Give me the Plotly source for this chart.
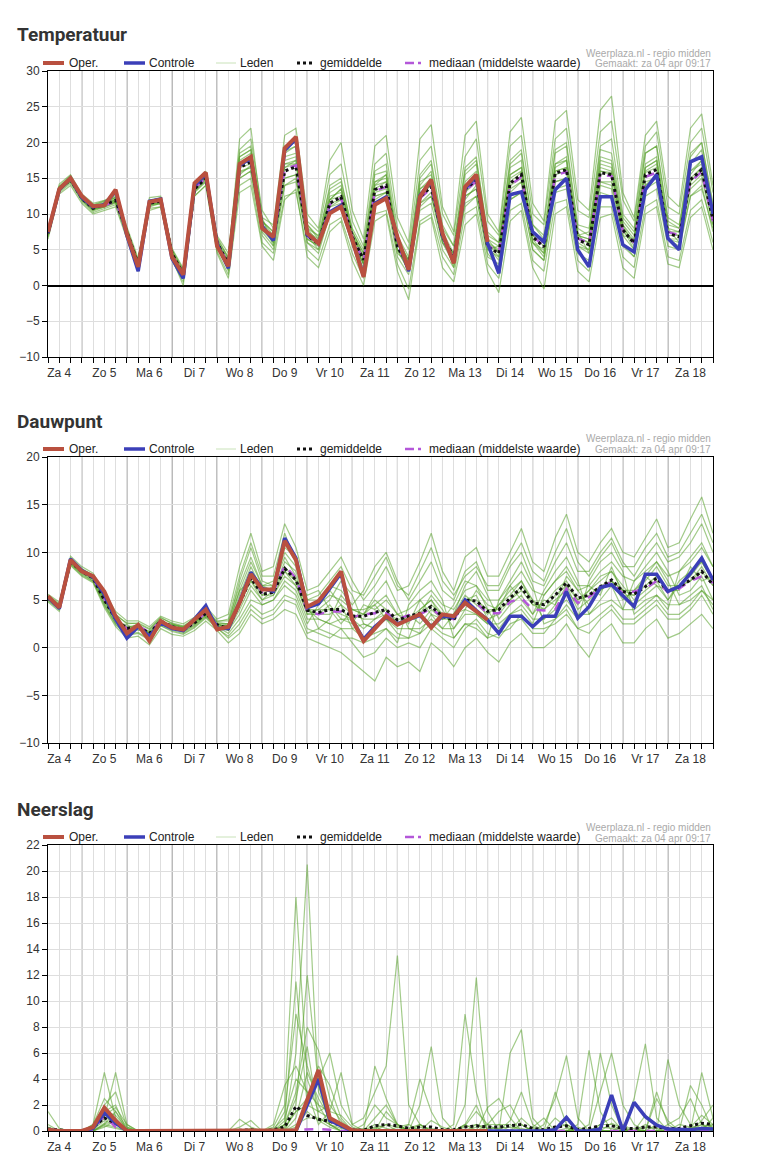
import plotly.graph_objects as go

W, H = 758, 1171

# ---------------- time axis ----------------
days = ["Za 4", "Zo 5", "Ma 6", "Di 7", "Wo 8", "Do 9", "Vr 10", "Za 11",
        "Zo 12", "Ma 13", "Di 14", "Wo 15", "Do 16", "Vr 17", "Za 18"]
hours = list(range(6, 361, 6))          # 6-hourly steps, hours after Za 4 00:00

# ---------------- Temperatuur ----------------
temp_oper = [7.5, 13.5, 15.0, 12.5, 11.1, 11.2, 13.4, 7.2, 2.6, 11.7, 12.0, 4.0,
             1.5, 14.3, 15.8, 5.5, 2.7, 17.0, 18.0, 8.0, 6.8, 19.2, 20.8, 7.3,
             5.9, 10.1, 11.0, 6.4, 1.2, 11.3, 12.2, 6.8, 2.2, 12.4, 14.8, 7.3,
             3.1, 13.8, 15.5, 6.1] + [None] * 20
temp_ctrl = [7.4, 13.4, 15.0, 12.3, 11.0, 11.3, 13.2, 7.0, 2.0, 11.8, 12.1, 3.8,
             1.0, 14.0, 15.6, 5.8, 2.4, 16.8, 17.8, 8.3, 6.3, 18.9, 20.5, 7.1,
             6.0, 10.3, 11.2, 6.2, 1.4, 11.5, 12.4, 6.6, 2.0, 12.6, 14.6, 7.0,
             3.3, 13.5, 15.3, 5.9, 1.7, 12.7, 13.1, 7.5, 6.1, 13.4, 15.0, 5.0,
             2.6, 12.4, 12.4, 5.7, 4.7, 13.4, 15.5, 6.6, 5.0, 17.3, 18.0, 10.0]
temp_mean = [7.3, 13.5, 14.8, 12.2, 10.8, 11.3, 11.9, 7.5, 3.0, 11.5, 11.8, 4.5,
             1.6, 13.5, 15.0, 6.0, 3.0, 16.5, 17.3, 8.2, 6.5, 16.0, 16.6, 7.0,
             5.8, 11.5, 12.4, 6.8, 3.6, 13.4, 14.0, 5.4, 2.8, 12.4, 13.8, 6.8,
             4.0, 13.4, 14.8, 5.4, 4.5, 14.3, 15.5, 6.8, 5.4, 15.7, 16.2, 6.4,
             5.7, 15.8, 15.5, 7.8, 5.9, 15.5, 16.2, 7.3, 6.8, 14.8, 16.2, 9.2]
temp_median = [7.3, 13.5, 14.9, 12.3, 10.9, 11.2, 11.8, 7.4, 2.9, 11.6, 11.9, 4.3,
               1.5, 13.6, 15.1, 6.1, 2.9, 16.7, 17.5, 8.1, 6.4, 16.3, 16.8, 6.9,
               5.7, 11.3, 12.2, 6.9, 3.4, 13.2, 13.8, 5.5, 2.6, 12.2, 13.6, 6.9,
               3.8, 13.2, 14.6, 5.6, 4.6, 14.0, 15.2, 6.9, 5.5, 15.4, 15.9, 6.6,
               5.9, 15.5, 15.3, 7.6, 6.0, 15.2, 15.8, 7.5, 7.0, 14.5, 15.9, 9.0]
temp_members = [
    [7.8, 14.2, 15.5, 12.8, 11.5, 11.9, 12.6, 8.2, 3.8, 12.3, 12.5, 5.2,
     2.4, 14.3, 16.0, 7.0, 4.5, 19.0, 20.5, 10.5, 8.0, 19.5, 20.0, 9.0,
     7.5, 15.5, 17.0, 9.0, 5.5, 17.0, 18.5, 8.0, 5.0, 17.5, 19.5, 10.0,
     7.0, 18.0, 20.5, 9.0, 7.0, 19.5, 21.0, 10.0, 8.5, 20.5, 22.0, 10.5,
     9.5, 21.5, 23.0, 12.0, 9.0, 19.5, 21.5, 11.0, 10.0, 20.0, 22.0, 13.0],
    [6.5, 12.8, 14.0, 11.5, 10.0, 10.5, 11.0, 6.5, 2.0, 10.8, 11.0, 3.5,
     0.5, 12.5, 14.0, 4.8, 1.5, 14.0, 15.0, 6.0, 4.5, 12.5, 13.0, 5.0,
     3.5, 8.5, 9.5, 4.5, 1.0, 10.0, 10.5, 3.0, -0.5, 9.0, 10.0, 4.0,
     1.5, 10.0, 11.0, 3.0, 1.0, 10.5, 11.5, 3.5, 2.0, 11.5, 12.0, 3.5,
     2.0, 11.0, 11.0, 4.0, 2.5, 11.0, 12.0, 4.0, 3.5, 10.5, 12.0, 6.0],
    [7.0, 13.8, 15.2, 12.5, 11.2, 11.8, 12.3, 7.0, 2.5, 11.0, 11.5, 4.0,
     1.0, 13.0, 14.5, 5.5, 3.5, 18.0, 19.0, 9.0, 7.5, 18.5, 19.5, 8.5,
     6.5, 14.0, 15.0, 7.5, 4.5, 15.5, 16.0, 6.5, 3.5, 13.0, 14.0, 6.0,
     3.0, 11.5, 12.5, 4.5, 2.5, 12.0, 13.0, 5.0, 3.5, 13.5, 14.0, 5.5,
     4.5, 14.0, 13.5, 6.0, 4.0, 13.5, 14.5, 6.5, 5.5, 12.5, 13.5, 8.0],
    [7.6, 13.2, 14.5, 11.9, 10.4, 10.9, 11.5, 7.8, 3.4, 11.9, 12.2, 5.0,
     2.0, 13.8, 15.2, 6.5, 2.5, 15.0, 16.0, 7.5, 5.5, 14.0, 14.5, 6.0,
     5.0, 10.0, 11.0, 6.0, 3.0, 12.0, 13.0, 5.0, 3.5, 15.0, 17.0, 8.0,
     5.5, 16.5, 18.0, 7.0, 6.0, 17.0, 18.5, 8.5, 6.5, 18.5, 19.5, 8.0,
     7.0, 19.0, 18.5, 9.5, 7.5, 18.5, 19.5, 9.0, 8.0, 18.0, 20.0, 11.0],
    [7.2, 13.6, 15.0, 12.0, 10.9, 11.5, 12.0, 7.6, 3.2, 11.6, 11.9, 4.6,
     1.4, 13.4, 15.4, 6.2, 3.8, 20.5, 22.0, 9.5, 8.5, 21.0, 22.0, 10.0,
     8.0, 17.5, 20.0, 10.5, 6.5, 19.5, 21.0, 9.5, 6.0, 20.5, 22.5, 11.0,
     7.5, 21.0, 23.0, 10.0, 7.5, 21.5, 23.5, 11.5, 9.0, 23.0, 24.5, 12.0,
     10.5, 24.5, 26.5, 13.0, 9.5, 21.0, 23.0, 12.5, 11.0, 22.0, 24.0, 14.0],
    [6.8, 13.0, 14.3, 11.8, 10.2, 10.8, 11.3, 6.8, 2.2, 10.5, 11.0, 3.8,
     0.0, 12.5, 14.0, 4.5, 1.0, 13.0, 14.0, 5.5, 3.5, 12.0, 13.5, 4.0,
     2.5, 7.5, 9.0, 3.5, 0.0, 9.0, 10.0, 2.0, -2.0, 8.5, 9.5, 2.5,
     0.5, 8.5, 10.0, 2.0, -1.0, 9.0, 10.5, 2.5, -0.5, 10.0, 11.0, 2.0,
     0.5, 9.5, 10.0, 2.5, 1.0, 10.0, 11.0, 3.0, 2.5, 9.5, 11.0, 5.0],
    [7.4, 13.4, 14.6, 12.4, 11.0, 11.2, 11.7, 7.3, 3.1, 11.4, 11.6, 4.3,
     1.8, 13.7, 15.2, 6.3, 2.8, 17.0, 18.0, 8.5, 6.0, 17.5, 18.0, 7.5,
     6.5, 12.5, 13.0, 7.0, 4.0, 14.5, 15.0, 6.0, 2.5, 11.5, 12.5, 6.5,
     4.5, 14.5, 16.0, 6.0, 4.0, 13.0, 14.5, 6.0, 5.0, 16.5, 17.5, 7.0,
     6.5, 17.5, 17.0, 8.5, 5.5, 14.5, 15.0, 7.0, 7.0, 15.5, 17.5, 9.5],
    [7.1, 13.7, 14.9, 12.1, 10.6, 11.0, 12.1, 7.7, 2.8, 11.7, 12.0, 4.8,
     1.2, 13.2, 14.8, 5.8, 3.3, 15.8, 16.5, 7.8, 7.0, 15.0, 15.5, 6.5,
     5.5, 11.0, 12.0, 6.5, 3.0, 13.0, 13.5, 5.0, 2.0, 13.5, 15.0, 7.5,
     3.5, 12.5, 13.5, 5.0, 5.5, 15.5, 16.5, 7.5, 6.0, 14.5, 15.0, 6.0,
     5.0, 16.5, 16.0, 7.0, 6.5, 16.5, 17.5, 8.0, 6.0, 14.0, 15.5, 8.5],
    [7.5, 13.3, 14.7, 12.3, 10.7, 11.4, 11.8, 7.4, 3.3, 11.3, 11.7, 4.4,
     1.6, 13.6, 15.1, 6.1, 3.2, 16.5, 17.0, 8.0, 6.5, 16.5, 17.5, 7.0,
     5.0, 12.0, 13.5, 7.5, 4.5, 12.5, 13.0, 4.5, 3.0, 11.5, 13.0, 6.0,
     4.5, 15.5, 17.0, 6.5, 4.5, 14.0, 15.0, 6.5, 4.5, 16.0, 16.5, 6.5,
     6.0, 14.5, 14.0, 7.5, 6.0, 16.0, 17.0, 7.5, 7.5, 16.0, 17.0, 9.5],
    [7.2, 13.9, 15.4, 12.0, 10.5, 11.6, 12.2, 7.9, 2.7, 11.2, 11.4, 4.7,
     1.7, 13.9, 15.6, 6.6, 2.0, 15.5, 16.8, 8.0, 7.0, 17.0, 17.5, 8.0,
     6.0, 13.0, 14.0, 7.0, 3.5, 14.5, 15.5, 6.0, 2.5, 14.0, 16.0, 7.0,
     2.5, 12.0, 14.0, 5.5, 3.5, 15.0, 16.0, 7.0, 6.0, 17.0, 18.0, 7.5,
     4.5, 16.0, 15.5, 8.0, 5.0, 14.0, 15.5, 6.5, 6.5, 14.5, 16.5, 10.0],
    [7.3, 13.6, 14.9, 12.2, 10.9, 11.4, 12.0, 7.6, 3.0, 11.6, 11.9, 4.6,
     1.5, 13.6, 15.1, 6.0, 3.5, 17.5, 18.5, 9.0, 7.5, 17.0, 17.0, 7.5,
     6.0, 12.0, 13.5, 7.5, 4.0, 14.0, 14.5, 6.0, 3.5, 13.5, 14.5, 7.5,
     4.5, 14.0, 15.5, 6.0, 5.0, 15.5, 16.5, 7.5, 6.0, 17.0, 17.5, 7.0,
     6.5, 17.0, 16.5, 8.5, 6.5, 16.5, 17.5, 8.0, 7.5, 16.0, 17.5, 10.0],
    [7.2, 13.4, 14.7, 12.1, 10.7, 11.1, 11.7, 7.4, 2.9, 11.4, 11.6, 4.4,
     1.4, 13.3, 14.8, 5.9, 2.5, 16.0, 16.5, 7.8, 6.0, 15.0, 15.5, 6.5,
     5.5, 11.0, 11.5, 6.5, 3.0, 12.5, 13.0, 5.0, 2.0, 11.0, 12.5, 6.0,
     3.5, 12.5, 13.5, 5.0, 4.0, 13.5, 14.5, 6.0, 4.5, 14.5, 15.0, 5.5,
     5.0, 14.5, 14.5, 7.0, 5.0, 14.0, 15.0, 6.5, 6.0, 13.5, 15.0, 8.5],
    [7.4, 13.5, 14.8, 12.3, 10.8, 11.3, 11.9, 7.5, 3.1, 11.5, 11.8, 4.5,
     1.7, 13.5, 15.0, 6.0, 3.0, 17.0, 17.8, 8.5, 6.8, 16.5, 17.0, 7.2,
     6.2, 12.0, 12.5, 7.0, 3.8, 13.5, 14.5, 5.8, 3.0, 12.5, 14.0, 7.0,
     4.2, 13.5, 15.0, 5.8, 4.8, 14.5, 15.8, 7.0, 5.5, 16.0, 16.5, 6.8,
     6.0, 16.0, 15.8, 8.0, 6.2, 15.8, 16.5, 7.5, 7.0, 15.0, 16.5, 9.5],
    [7.6, 13.8, 15.1, 12.4, 11.1, 11.6, 12.3, 7.2, 2.6, 11.9, 12.1, 4.1,
     1.9, 14.0, 15.5, 6.5, 4.0, 18.5, 19.5, 9.5, 5.5, 18.0, 18.5, 8.0,
     7.0, 13.5, 14.5, 8.0, 5.0, 16.0, 17.0, 7.0, 4.0, 15.5, 17.5, 8.5,
     5.5, 16.0, 17.5, 7.5, 6.0, 17.5, 19.0, 8.5, 7.0, 19.0, 20.0, 8.5,
     8.0, 19.5, 20.5, 10.0, 8.0, 18.5, 19.5, 9.5, 8.5, 18.5, 20.0, 11.5],
    [7.0, 13.2, 14.6, 12.0, 10.6, 11.0, 11.6, 7.1, 2.7, 11.2, 11.5, 4.2,
     1.1, 13.1, 14.6, 5.6, 2.2, 15.0, 16.0, 7.0, 5.0, 14.0, 15.0, 6.0,
     4.5, 10.0, 11.0, 5.5, 2.5, 11.5, 12.0, 4.0, 1.5, 10.5, 11.5, 5.0,
     2.5, 11.0, 12.5, 4.0, 3.0, 12.0, 13.0, 5.0, 3.5, 13.0, 13.5, 4.5,
     3.5, 13.0, 12.5, 5.5, 4.0, 12.5, 13.5, 5.5, 5.0, 12.5, 14.0, 7.5],
    [7.3, 13.7, 15.1, 12.6, 11.3, 11.8, 12.4, 7.9, 3.5, 11.8, 12.3, 5.0,
     2.2, 14.1, 15.7, 6.8, 3.8, 18.0, 19.0, 9.0, 7.0, 18.8, 19.5, 8.5,
     6.8, 11.5, 12.0, 6.0, 3.0, 14.0, 15.5, 6.5, 3.5, 14.5, 15.5, 7.0,
     3.0, 13.0, 14.5, 6.5, 5.5, 16.5, 17.5, 6.0, 4.0, 15.5, 16.0, 7.0,
     7.5, 18.0, 17.5, 9.0, 7.0, 17.0, 18.0, 8.5, 8.0, 17.0, 19.0, 10.5],
]

# ---------------- Dauwpunt ----------------
dew_oper = [5.4, 4.2, 9.2, 8.0, 7.5, 5.9, 3.3, 1.5, 2.4, 0.7, 2.8, 2.1,
            1.9, 2.9, 4.0, 1.9, 2.2, 4.7, 7.7, 6.1, 6.1, 11.2, 9.2, 4.3,
            4.9, 6.4, 8.0, 2.9, 0.7, 2.0, 3.3, 2.4, 2.9, 3.5, 2.1, 3.5,
            3.3, 4.7, 3.8, 2.9] + [None] * 20
dew_ctrl = [5.3, 4.1, 9.3, 8.1, 7.4, 5.6, 3.0, 1.0, 2.2, 1.2, 2.6, 2.0,
            1.8, 3.0, 4.4, 2.0, 2.0, 4.8, 7.9, 6.2, 5.9, 11.5, 9.4, 4.2,
            4.6, 6.2, 7.8, 2.9, 0.9, 2.2, 3.2, 2.5, 3.0, 3.4, 2.2, 3.3,
            3.2, 5.0, 3.9, 2.9, 1.5, 3.3, 3.3, 2.2, 3.3, 3.3, 5.9, 3.1,
            4.3, 6.3, 6.6, 5.4, 4.3, 7.7, 7.7, 5.9, 6.4, 7.8, 9.4, 7.1]
dew_mean = [5.2, 4.3, 9.0, 8.0, 7.3, 5.0, 3.0, 2.0, 2.2, 1.5, 2.8, 2.2,
            1.9, 2.6, 3.6, 2.4, 2.0, 4.7, 7.3, 5.6, 5.8, 8.3, 7.1, 3.9,
            3.7, 4.0, 4.0, 3.3, 3.3, 3.7, 4.0, 2.9, 3.3, 3.6, 4.3, 3.3,
            2.9, 5.0, 4.9, 3.8, 4.0, 5.2, 6.3, 4.7, 4.5, 5.5, 6.8, 5.2,
            5.5, 6.4, 7.1, 5.9, 5.6, 6.4, 7.3, 5.9, 6.4, 7.1, 8.0, 6.6]
dew_median = [5.2, 4.3, 9.0, 8.0, 7.3, 5.1, 3.1, 2.0, 2.3, 1.6, 2.8, 2.2,
              1.9, 2.6, 3.7, 2.4, 2.0, 4.8, 7.6, 5.8, 5.9, 8.6, 7.3, 3.8,
              3.5, 3.8, 3.8, 3.2, 3.5, 3.6, 3.6, 3.0, 3.4, 3.5, 4.1, 3.2,
              3.0, 4.6, 4.7, 3.6, 3.6, 4.8, 5.2, 4.0, 3.9, 4.0, 6.2, 4.7,
              5.3, 6.3, 6.9, 5.7, 5.9, 6.2, 7.0, 5.8, 6.2, 7.0, 7.5, 6.8]
dew_members = [
    [5.6, 4.8, 9.6, 8.5, 7.8, 5.8, 3.8, 2.8, 2.8, 2.2, 3.3, 2.8,
     2.5, 3.2, 4.3, 3.0, 3.5, 8.5, 12.0, 8.0, 8.5, 13.0, 10.5, 6.0,
     6.5, 8.0, 9.5, 7.0, 5.0, 6.5, 8.5, 6.0, 6.5, 9.0, 12.0, 8.0,
     6.0, 9.5, 10.5, 7.5, 7.5, 10.0, 12.5, 9.0, 8.0, 11.5, 14.0, 10.0,
     9.0, 11.0, 12.5, 10.0, 9.5, 11.5, 13.5, 10.5, 11.0, 13.5, 15.8, 12.0],
    [4.8, 3.8, 8.6, 7.5, 6.8, 4.2, 2.2, 1.0, 1.2, 0.3, 2.0, 1.4,
     1.2, 1.8, 2.8, 1.8, 0.5, 1.5, 3.5, 2.5, 3.0, 4.0, 3.5, 1.0,
     0.5, 0.0, -0.5, -1.5, -2.5, -3.5, -1.0, -2.0, -1.5, -2.5, 0.5, -0.5,
     -2.0, 0.0, 1.0, -0.5, -1.5, 0.5, 1.5, 0.0, 0.0, 1.0, 2.5, 0.5,
     -1.0, 1.5, 2.5, 0.5, 0.5, 2.0, 3.0, 1.0, 1.5, 2.5, 3.5, 2.0],
    [5.0, 4.5, 9.3, 8.2, 7.5, 5.5, 3.3, 1.5, 2.5, 1.0, 2.5, 2.5,
     2.2, 2.9, 3.9, 2.6, 2.5, 7.0, 10.5, 7.0, 6.5, 11.0, 9.0, 4.5,
     2.0, 3.0, 5.5, 4.0, 3.5, 5.5, 7.0, 4.5, 2.0, 1.5, 3.5, 2.0,
     3.5, 6.5, 8.0, 5.5, 3.0, 4.5, 5.5, 3.5, 6.0, 8.0, 9.5, 7.0,
     3.5, 5.0, 6.5, 4.0, 7.0, 8.5, 10.0, 8.0, 5.5, 6.0, 7.5, 5.0],
    [5.4, 4.1, 8.8, 7.8, 7.0, 4.6, 2.6, 2.4, 1.8, 1.8, 3.0, 2.0,
     1.6, 2.4, 3.3, 2.2, 1.5, 3.0, 5.0, 4.5, 5.0, 6.5, 5.5, 2.5,
     4.5, 6.0, 4.5, 2.0, 1.0, 1.5, 2.0, 0.5, 4.5, 6.0, 7.0, 5.0,
     1.0, 2.5, 2.0, 1.0, 5.0, 7.0, 9.0, 6.5, 2.5, 3.0, 4.5, 3.0,
     7.0, 9.0, 10.0, 8.0, 3.5, 4.5, 5.5, 4.0, 8.0, 9.5, 11.0, 8.5],
    [5.3, 4.4, 9.2, 8.1, 7.4, 5.2, 3.1, 1.8, 2.0, 1.3, 2.6, 2.3,
     2.0, 2.7, 3.7, 2.5, 2.2, 5.5, 8.5, 6.0, 6.0, 9.0, 8.0, 4.0,
     3.0, 2.5, 3.0, 2.5, 4.5, 4.0, 5.0, 3.5, 3.0, 3.5, 5.5, 4.0,
     2.0, 4.0, 3.5, 2.5, 4.5, 6.0, 7.0, 4.5, 4.0, 5.0, 6.0, 4.5,
     6.0, 7.5, 8.0, 6.5, 5.0, 6.0, 7.0, 5.0, 6.5, 7.0, 8.5, 6.5],
    [5.1, 4.2, 8.9, 7.9, 7.2, 4.8, 2.8, 2.1, 2.4, 1.6, 2.9, 2.0,
     1.8, 2.5, 3.5, 2.3, 1.8, 4.0, 6.5, 5.0, 5.5, 7.5, 6.5, 3.5,
     4.0, 5.0, 7.0, 5.5, 2.5, 2.0, 3.0, 1.5, 1.0, 4.0, 5.0, 3.0,
     4.5, 7.0, 6.5, 4.0, 2.0, 3.5, 4.0, 2.5, 5.5, 7.0, 8.0, 6.0,
     4.5, 6.0, 7.0, 5.0, 6.0, 7.5, 9.0, 7.0, 4.5, 5.5, 6.5, 4.0],
    [5.5, 4.6, 9.4, 8.3, 7.6, 5.4, 3.5, 2.5, 2.6, 2.0, 3.1, 2.6,
     2.3, 3.0, 4.0, 2.8, 2.8, 6.5, 9.5, 6.5, 7.0, 10.5, 9.5, 5.0,
     5.0, 6.5, 6.0, 4.5, 6.0, 8.5, 10.0, 7.0, 5.0, 7.0, 9.0, 6.0,
     5.0, 8.0, 9.0, 6.0, 6.0, 8.5, 10.0, 7.0, 6.5, 9.0, 11.0, 8.0,
     8.0, 10.0, 11.5, 9.0, 7.5, 9.5, 11.0, 9.0, 9.5, 11.0, 13.0, 10.0],
    [4.9, 4.0, 8.7, 7.6, 6.9, 4.4, 2.4, 1.3, 1.5, 0.8, 2.3, 1.7,
     1.4, 2.1, 3.1, 2.0, 1.2, 2.5, 4.5, 3.5, 4.0, 5.5, 5.0, 2.0,
     1.5, 1.0, 2.0, 0.5, -1.0, -0.5, 1.0, 0.0, 0.5, 0.0, 2.0, 1.0,
     0.0, 2.0, 3.0, 1.5, 1.0, 2.5, 3.0, 1.5, 1.5, 3.0, 4.0, 2.0,
     1.5, 3.0, 4.0, 2.5, 2.5, 3.5, 4.5, 3.0, 3.0, 4.0, 5.5, 3.5],
    [5.2, 4.3, 9.1, 8.0, 7.3, 5.0, 3.0, 2.2, 2.3, 1.4, 2.7, 2.4,
     2.1, 2.8, 3.8, 2.5, 2.0, 5.0, 7.5, 5.5, 6.5, 9.5, 7.5, 4.0,
     3.5, 4.5, 3.0, 3.0, 2.0, 3.0, 4.0, 2.5, 3.5, 2.5, 4.0, 3.0,
     3.0, 5.0, 5.5, 3.0, 3.5, 5.0, 6.5, 5.0, 3.0, 4.5, 6.5, 4.0,
     5.0, 6.0, 7.0, 6.0, 4.5, 5.5, 6.5, 5.0, 7.0, 8.0, 9.0, 7.0],
    [5.3, 4.5, 9.4, 8.2, 7.5, 5.3, 3.2, 1.6, 2.1, 1.1, 2.4, 2.1,
     1.7, 2.3, 3.4, 2.2, 2.5, 5.0, 8.0, 6.5, 6.0, 8.5, 7.0, 5.5,
     6.0, 4.0, 2.5, 4.0, 3.5, 4.5, 3.0, 3.5, 2.5, 5.0, 3.5, 3.0,
     3.5, 4.0, 6.0, 4.5, 4.0, 6.5, 5.0, 3.5, 5.0, 4.5, 7.5, 6.0,
     6.5, 5.5, 8.5, 5.5, 5.5, 7.5, 6.5, 6.0, 6.0, 8.5, 7.0, 7.5],
    [5.2, 4.2, 9.0, 7.9, 7.2, 4.9, 2.9, 1.9, 2.2, 1.5, 2.7, 2.2,
     1.9, 2.6, 3.6, 2.4, 2.3, 6.0, 9.0, 6.5, 6.5, 10.0, 8.5, 4.5,
     4.5, 5.5, 5.0, 4.0, 4.0, 4.5, 5.5, 3.5, 4.0, 5.0, 6.0, 4.5,
     4.0, 6.0, 6.5, 5.0, 5.0, 6.5, 8.0, 6.0, 5.5, 7.0, 8.5, 6.5,
     6.5, 8.0, 9.0, 7.5, 7.0, 8.0, 9.0, 7.5, 8.0, 9.0, 10.5, 8.5],
    [5.1, 4.3, 9.1, 8.1, 7.4, 5.1, 3.0, 2.0, 2.2, 1.5, 2.9, 2.2,
     2.0, 2.6, 3.5, 2.3, 1.8, 3.5, 6.0, 4.5, 5.0, 7.0, 6.0, 3.0,
     3.0, 2.5, 2.0, 2.0, 2.5, 2.0, 3.0, 2.0, 2.0, 2.0, 3.0, 2.0,
     2.0, 3.5, 3.5, 2.5, 2.5, 3.5, 4.5, 3.0, 3.0, 4.0, 5.0, 3.5,
     3.5, 4.5, 5.0, 4.0, 4.0, 5.0, 5.5, 4.5, 4.5, 5.0, 6.0, 5.0],
    [5.3, 4.4, 8.9, 7.9, 7.2, 5.0, 2.9, 2.1, 2.1, 1.6, 2.8, 2.1,
     1.8, 2.7, 3.7, 2.5, 2.0, 4.5, 7.0, 5.5, 5.5, 8.0, 7.0, 3.5,
     3.5, 3.5, 4.5, 3.5, 3.0, 3.0, 3.5, 3.0, 3.0, 4.0, 5.0, 3.5,
     3.0, 5.0, 5.0, 4.0, 4.0, 5.0, 6.0, 4.5, 4.5, 6.0, 7.0, 5.0,
     5.5, 6.5, 7.0, 6.0, 5.5, 6.5, 7.5, 6.0, 6.5, 7.0, 8.0, 6.5],
    [5.4, 4.5, 9.2, 8.0, 7.3, 5.3, 3.4, 2.6, 2.5, 1.9, 3.2, 2.5,
     2.1, 2.8, 3.9, 2.7, 3.0, 7.5, 11.0, 7.5, 7.5, 12.0, 9.0, 5.0,
     5.5, 7.0, 8.5, 6.0, 5.5, 7.5, 9.5, 6.5, 5.5, 8.0, 10.5, 7.0,
     5.5, 7.5, 8.5, 6.5, 6.5, 9.0, 11.0, 8.0, 7.0, 10.0, 12.5, 9.0,
     7.5, 9.5, 11.0, 8.5, 8.5, 10.5, 12.0, 9.5, 10.0, 12.0, 14.0, 11.0],
    [5.0, 4.0, 8.8, 7.7, 7.0, 4.5, 2.5, 1.4, 1.6, 0.9, 2.3, 1.8,
     1.5, 2.2, 3.2, 2.1, 1.0, 2.0, 4.0, 3.0, 3.5, 5.0, 4.5, 1.5,
     2.0, 1.5, 1.0, 1.0, 0.5, 1.0, 2.0, 1.0, 1.0, 1.5, 2.5, 1.5,
     1.0, 2.5, 2.5, 1.0, 1.5, 2.0, 3.5, 2.0, 2.0, 2.5, 3.5, 2.0,
     2.5, 3.5, 4.5, 3.0, 3.0, 4.0, 5.0, 3.5, 3.5, 4.5, 6.0, 4.5],
    [5.2, 4.4, 9.2, 8.2, 7.6, 5.5, 3.2, 1.7, 2.0, 1.2, 2.5, 2.4,
     2.2, 3.0, 3.8, 2.6, 2.5, 6.0, 7.0, 5.0, 6.0, 8.0, 6.5, 4.0,
     4.0, 4.0, 3.5, 3.0, 3.5, 5.0, 4.0, 2.5, 3.0, 3.5, 4.5, 3.5,
     3.5, 5.5, 4.5, 3.5, 4.5, 5.5, 7.0, 5.0, 4.0, 5.5, 6.5, 5.0,
     6.0, 7.0, 8.0, 6.0, 6.0, 7.0, 8.5, 6.5, 6.5, 7.5, 9.0, 7.0],
]

# ---------------- Neerslag ----------------
rain_oper = [0.1, 0, 0, 0, 0.3, 1.8, 0.8, 0, 0, 0, 0, 0,
             0, 0, 0, 0, 0, 0, 0, 0, 0, 0, 0.05, 2.4,
             4.7, 1.0, 0.5, 0.05, 0, 0, 0, 0, 0, 0, 0, 0,
             0, 0, 0, 0] + [None] * 20
rain_ctrl = [0.1, 0, 0, 0, 0.2, 1.4, 0.6, 0, 0, 0, 0, 0,
             0, 0, 0, 0, 0, 0, 0, 0, 0, 0, 0, 2.0,
             4.0, 0.8, 0.4, 0, 0, 0, 0, 0, 0, 0, 0, 0,
             0, 0, 0, 0, 0, 0, 0, 0, 0, 0.1, 1.05, 0,
             0, 0.15, 2.77, 0, 2.2, 1.1, 0.45, 0.15, 0.1, 0.1, 0.2, 0.15]
rain_mean = [0.15, 0.05, 0, 0, 0.3, 1.0, 0.6, 0.05, 0, 0, 0, 0,
             0, 0, 0, 0, 0, 0.05, 0.1, 0, 0.1, 0.3, 1.9, 1.2,
             0.9, 0.75, 0.4, 0.1, 0.05, 0.4, 0.5, 0.4, 0.2, 0.3, 0.3, 0.1,
             0.1, 0.3, 0.4, 0.3, 0.3, 0.4, 0.5, 0.2, 0.1, 0.3, 0.4, 0.1,
             0.2, 0.4, 0.4, 0.2, 0.2, 0.3, 0.3, 0.2, 0.2, 0.4, 0.6, 0.5]
rain_median = [0, 0, 0, 0, 0, 1.2, 0.3, 0, 0, 0, 0, 0,
               0, 0, 0, 0, 0, 0, 0, 0, 0, 0, 0.1, 0.15,
               0.15, 0.1, 0, 0, 0, 0, 0, 0, 0, 0, 0, 0,
               0, 0, 0, 0, 0, 0, 0, 0, 0, 0, 0, 0,
               0, 0, 0, 0, 0, 0, 0, 0, 0, 0, 0, 0]
rain_members = [
    [0.3, 0, 0, 0, 0.5, 2.5, 1.5, 0, 0, 0, 0, 0,
     0, 0, 0, 0, 0, 0.3, 0.8, 0, 0, 0.5, 6.0, 20.5,
     3.0, 1.0, 0.5, 0, 0, 0.5, 0.2, 0, 0, 0, 0.8, 0.3,
     0, 0.4, 1.5, 0.5, 0, 0, 0.5, 0, 0, 1.0, 0.3, 0,
     0, 0, 0.6, 0.2, 0, 1.2, 0.5, 0, 0, 0.3, 1.2, 0.5],
    [1.5, 0.2, 0, 0, 0.2, 1.0, 4.5, 0.5, 0, 0, 0, 0,
     0, 0, 0, 0, 0, 0, 0.2, 0, 0.3, 2.0, 18.0, 4.0,
     1.5, 2.0, 0.8, 0, 0.5, 2.0, 1.0, 0.5, 0, 0.5, 0, 0,
     0, 0, 0, 1.8, 2.5, 1.0, 0, 0, 0, 0, 0, 0.5,
     6.2, 1.5, 0, 0, 0, 0, 2.5, 0.8, 0, 0, 0, 0.3],
    [0, 0, 0, 0, 0.5, 4.5, 1.0, 0, 0, 0, 0, 0,
     0, 0, 0, 0, 0, 0, 0, 0, 0, 0.8, 11.5, 2.0,
     4.0, 6.0, 2.0, 0.5, 1.0, 3.0, 5.0, 13.5, 2.0, 0.5, 0, 0,
     0, 0, 0, 0, 0, 0.8, 3.0, 0.5, 0, 0, 0, 0,
     0, 0.5, 1.0, 0, 0, 0, 0, 0.5, 1.0, 2.5, 0.5, 0],
    [0, 0, 0, 0, 0, 2.0, 3.0, 0.3, 0, 0, 0, 0,
     0, 0, 0, 0, 0, 0.9, 0.3, 0, 0, 0.5, 3.0, 8.0,
     6.2, 2.5, 0.5, 0, 0, 0, 0.5, 0, 0, 2.0, 6.5, 1.0,
     0, 2.0, 11.8, 1.5, 0, 0, 0, 0.3, 1.0, 0, 0, 0,
     0, 3.0, 6.0, 2.0, 0.5, 0, 0, 0, 0, 0, 0.8, 2.0],
    [0.2, 0, 0, 0, 0.3, 1.5, 2.0, 0, 0, 0, 0, 0,
     0, 0, 0, 0, 0, 0, 0, 0, 0, 1.5, 9.0, 5.0,
     2.0, 0.5, 0, 0, 0, 1.0, 2.0, 0.5, 0, 0, 0, 0,
     0, 0.5, 2.0, 0, 0, 6.0, 7.8, 1.0, 0, 0, 0, 0,
     0, 0, 0, 0, 2.5, 6.7, 1.0, 0, 0, 0, 0.5, 0],
    [0, 0, 0, 0, 0, 1.2, 1.8, 0.5, 0, 0, 0, 0,
     0, 0, 0, 0, 0, 0, 0, 0, 0.5, 3.5, 5.0, 3.0,
     0.5, 1.5, 4.5, 0.5, 0, 0, 0, 0, 0.5, 4.0, 1.5, 0,
     0, 0, 0, 0, 0, 0, 0, 0, 0.5, 2.5, 5.8, 1.0,
     0, 0, 0, 0.5, 0, 0.5, 0, 0, 0, 0, 4.5, 1.0],
    [0, 0, 0, 0, 0.1, 0.8, 0.5, 0, 0, 0, 0, 0,
     0, 0, 0, 0, 0, 0, 0, 0, 0, 0.2, 1.5, 2.5,
     5.0, 3.5, 1.0, 0, 0, 5.0, 2.5, 0.5, 0, 0, 0, 0,
     0.5, 9.0, 3.0, 0, 0, 0, 0, 0, 0, 0, 0, 0,
     0, 0, 0, 0, 0, 0, 0, 5.5, 2.0, 0.5, 0, 0],
    [0, 0, 0, 0, 0, 0.5, 0.3, 0, 0, 0, 0, 0,
     0, 0, 0, 0, 0, 0, 0, 0, 0, 0, 0.5, 1.0,
     1.0, 0.5, 0, 0, 0, 0, 0, 0.3, 0.5, 0, 0, 0,
     0, 0, 0, 0.5, 1.5, 2.0, 0.5, 0, 0, 0, 0, 0,
     0.5, 6.0, 2.0, 0, 0, 0, 0.5, 0, 0, 3.5, 2.0, 0],
    [0.5, 0, 0, 0, 0, 0.3, 0.8, 0.2, 0, 0, 0, 0,
     0, 0, 0, 0, 0, 0, 0, 0, 0, 0, 2.0, 12.0,
     3.5, 0.5, 0, 0, 0.2, 0, 0, 0, 0, 0, 0, 0,
     0, 0, 0.5, 0, 0, 0, 0, 0, 0, 3.0, 0.5, 0,
     0, 0, 0, 0, 0, 0, 3.0, 0.5, 0, 0, 0, 1.0],
    [0, 0, 0, 0, 0, 0.6, 0.6, 0, 0, 0, 0, 0,
     0, 0, 0, 0, 0, 0, 0, 0, 0, 0, 1.0, 4.5,
     2.5, 1.0, 0.3, 0, 0, 0, 0, 0, 0, 0, 0, 0,
     0, 0, 0, 0, 0.5, 0.5, 0, 0, 0, 0, 0, 0,
     0, 0, 0, 0, 0, 0, 0, 0, 0, 0, 0, 0.5],
    [0.1, 0, 0, 0, 0.2, 1.0, 0.8, 0.1, 0, 0, 0, 0,
     0, 0, 0, 0, 0, 0, 0, 0, 0, 0.3, 1.5, 2.0,
     1.5, 1.0, 0.5, 0, 0, 0.2, 0.5, 0.3, 0, 0.3, 0.2, 0,
     0, 0.3, 0.5, 0.2, 0.2, 0.3, 0.2, 0, 0, 0.2, 0.5, 0,
     0, 0.3, 0.2, 0, 0, 0.3, 0.2, 0, 0, 0.2, 0.5, 0.3],
    [0, 0, 0, 0, 0.3, 1.6, 1.2, 0.2, 0, 0, 0, 0,
     0, 0, 0, 0, 0, 0, 0, 0, 0.2, 1.0, 4.0, 3.0,
     2.0, 1.5, 1.2, 0.3, 0, 0, 0, 0, 0.2, 0.5, 0, 0,
     0, 0, 0.3, 0.5, 0.5, 0, 0, 0.3, 0, 0, 0.2, 0,
     0, 0.5, 0.5, 0, 0.2, 0, 0, 0, 0, 0, 0.3, 0.5],
    [0, 0, 0, 0, 0, 0.4, 0.2, 0, 0, 0, 0, 0,
     0, 0, 0, 0, 0, 0, 0, 0, 0, 0, 0.3, 1.5,
     0.8, 0.3, 0, 0, 0, 0.3, 0, 0, 0, 0, 0, 0,
     0, 0, 0, 0, 0, 0, 1.0, 0.2, 0, 0, 0, 0,
     0, 0, 0, 0.3, 0, 0, 0, 0, 0.5, 0.3, 0, 0],
    [0, 0, 0, 0, 0, 0.5, 1.5, 0.3, 0, 0, 0, 0,
     0, 0, 0, 0, 0, 0, 0, 0, 0, 0.5, 2.5, 6.5,
     1.0, 0.5, 0.2, 0, 0, 0, 1.5, 0.5, 0, 0, 0, 0,
     0, 0.5, 0, 0, 0, 0, 0, 0, 0, 0, 0, 0.3,
     0, 0, 0, 0, 0, 0, 0, 0, 0, 0, 0, 0],
]

# ---------------- styling ----------------
C_OPER = "#b9503f"
C_CTRL = "#3b3fb8"
C_MEMB = "rgba(85,160,40,0.55)"
C_MEAN = "#111111"
C_MED = "#b457d9"
FONT = "Liberation Sans, Arial, sans-serif"

panels = [
    dict(title="Temperatuur", top=71, bottom=357, yr=[-10, 30], dtick=5, zero=True,
         oper=temp_oper, ctrl=temp_ctrl, mean=temp_mean, med=temp_median, mem=temp_members),
    dict(title="Dauwpunt", top=457, bottom=743, yr=[-10, 20], dtick=5, zero=False,
         oper=dew_oper, ctrl=dew_ctrl, mean=dew_mean, med=dew_median, mem=dew_members),
    dict(title="Neerslag", top=845, bottom=1131, yr=[0, 22], dtick=2, zero=False,
         oper=rain_oper, ctrl=rain_ctrl, mean=rain_mean, med=rain_median, mem=rain_members),
]

PX_L, PX_R = 48, 713
fx = lambda px: px / W
fy = lambda py: 1 - py / H

fig = go.Figure()
shapes, annotations = [], []
noon = [12 + 24 * k for k in range(len(days))]
day_edges = [24 * k for k in range(1, len(days))]

for n, p in enumerate(panels, start=1):
    xa = "x" if n == 1 else f"x{n}"
    ya = "y" if n == 1 else f"y{n}"
    common = dict(xaxis=xa, yaxis=ya, mode="lines", showlegend=False, hoverinfo="skip")
    for m in p["mem"]:
        fig.add_trace(go.Scatter(x=hours, y=m, line=dict(color=C_MEMB, width=1.2), **common))
    fig.add_trace(go.Scatter(x=hours, y=p["med"], line=dict(color=C_MED, width=2.5, dash="dash"), **common))
    fig.add_trace(go.Scatter(x=hours, y=p["mean"], line=dict(color=C_MEAN, width=3, dash="dot"), **common))
    fig.add_trace(go.Scatter(x=hours, y=p["ctrl"], line=dict(color=C_CTRL, width=3.5), **common))
    fig.add_trace(go.Scatter(x=hours, y=p["oper"], line=dict(color=C_OPER, width=4), **common))

    xkey = "xaxis" if n == 1 else f"xaxis{n}"
    ykey = "yaxis" if n == 1 else f"yaxis{n}"
    fig.update_layout(**{
        xkey: dict(domain=[fx(PX_L), fx(PX_R)], anchor=ya, range=[6, 360],
                   tickmode="array", tickvals=noon, ticktext=days,
                   ticks="outside", ticklen=5, tickcolor="#000", showgrid=False,
                   showline=True, linecolor="#000", linewidth=1, mirror=True, zeroline=False,
                   tickfont=dict(family=FONT, size=12, color="#333"),
                   minor=dict(dtick=6, tick0=0, ticks="outside", ticklen=5, tickcolor="#000",
                              showgrid=True, gridcolor="#dedede", gridwidth=1)),
        ykey: dict(domain=[fy(p["bottom"]), fy(p["top"])], anchor=xa, range=p["yr"],
                   dtick=p["dtick"], ticks="outside", ticklen=5, tickcolor="#000",
                   showgrid=True, gridcolor="#dedede", gridwidth=1,
                   showline=True, linecolor="#000", linewidth=1, mirror=True,
                   zeroline=p["zero"], zerolinecolor="#000", zerolinewidth=2,
                   tickfont=dict(family=FONT, size=12, color="#333")),
    })

    for d in day_edges:
        shapes.append(dict(type="line", xref=xa, yref=f"{ya} domain", x0=d, x1=d, y0=0, y1=1,
                           line=dict(color="#6e6e6e", width=1), layer="below"))

    top = p["top"]
    annotations.append(dict(text=f"<b>{p['title']}</b>", x=fx(15), y=fy(top - 36), xref="paper", yref="paper",
                            xanchor="left", yanchor="middle", showarrow=False,
                            font=dict(family="Roboto, sans-serif", size=19, color="#333")))
    annotations.append(dict(text="Weerplaza.nl - regio midden", x=fx(713), y=fy(top - 18), xref="paper",
                            yref="paper", xanchor="right", yanchor="middle", showarrow=False,
                            font=dict(family=FONT, size=10, color="#aaaaaa")))
    annotations.append(dict(text="Gemaakt: za 04 apr 09:17", x=fx(713), y=fy(top - 7), xref="paper",
                            yref="paper", xanchor="right", yanchor="middle", showarrow=False,
                            font=dict(family=FONT, size=10, color="#aaaaaa")))
    ly = fy(top - 8)
    legend_items = [
        (43, 64, dict(color=C_OPER, width=4), 67, "Oper."),
        (124, 145, dict(color=C_CTRL, width=3.5), 147, "Controle"),
        (216, 236, dict(color="#c9e2b9", width=1), 238, "Leden"),
        (297, 313, dict(color=C_MEAN, width=3, dash="dot"), 318, "gemiddelde"),
        (405, 421, dict(color=C_MED, width=2.5, dash="9px,4px,3px,4px"), 427, "mediaan (middelste waarde)"),
    ]
    for x0, x1, ln, tx, label in legend_items:
        shapes.append(dict(type="line", xref="paper", yref="paper", x0=fx(x0), x1=fx(x1), y0=ly, y1=ly, line=ln))
        annotations.append(dict(text=label, x=fx(tx), y=ly, xref="paper", yref="paper", xanchor="left",
                                yanchor="middle", showarrow=False,
                                font=dict(family=FONT, size=12, color="#222")))

fig.update_layout(width=W, height=H, margin=dict(l=0, r=0, t=0, b=0, autoexpand=False),
                  paper_bgcolor="white", plot_bgcolor="white",
                  shapes=shapes, annotations=annotations, showlegend=False)

fig.write_html("out.html", config={"displayModeBar": False},
               post_script="document.body.style.margin='0';")
